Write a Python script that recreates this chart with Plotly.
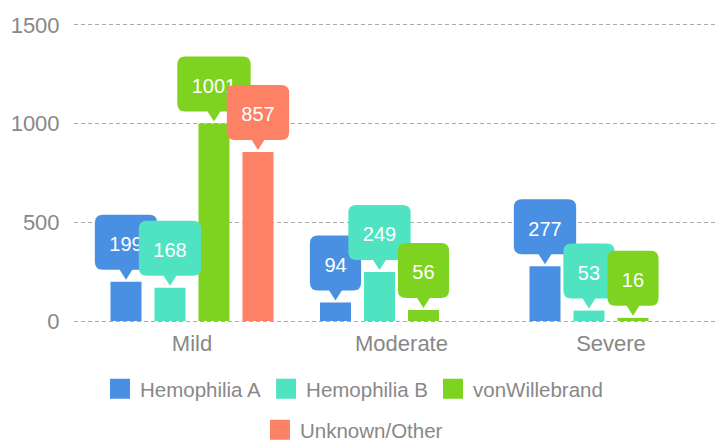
import plotly.graph_objects as go

categories = ["Mild", "Moderate", "Severe"]
series_names = ["Hemophilia A", "Hemophilia B", "vonWillebrand", "Unknown/Other"]
hemophilia_a = [199, 94, 277]
hemophilia_b = [168, 249, 53]
von_willebrand = [1001, 56, 16]
unknown_other = [857, None, None]
y_ticks = [0, 500, 1000, 1500]

series_values = [hemophilia_a, hemophilia_b, von_willebrand, unknown_other]
colors = ["#4a90e2", "#50e3c2", "#7ed321", "#fd8165"]

FONT = "Liberation Sans, Arial, sans-serif"
GRAY = "#888888"
BARGAP = 0.16
GROUPGAP = 0.295
n_series = len(series_values)
slot = (1 - BARGAP) / n_series

fig = go.Figure()
x_pos = list(range(len(categories)))

for name, vals, col in zip(series_names, series_values, colors):
    fig.add_trace(go.Bar(x=x_pos, y=vals, name=name, marker=dict(color=col, line=dict(width=0)),
                         showlegend=False, hoverinfo="x+y"))

# legend entries (square swatches)
for i, (name, col) in enumerate(zip(series_names, colors)):
    fig.add_trace(go.Scatter(x=[None], y=[None], mode="markers", name=name,
                             marker=dict(symbol="square", size=16, color=col,
                                         line=dict(color=col, width=4)),
                             legend="legend" if i < 3 else "legend2"))


def rounded_rect(h, b, t, r):
    return (f"M {-h + r},{b} L {h - r},{b} Q {h},{b} {h},{b + r} L {h},{t - r} "
            f"Q {h},{t} {h - r},{t} L {-h + r},{t} Q {-h},{t} {-h},{t - r} "
            f"L {-h},{b + r} Q {-h},{b} {-h + r},{b} Z")


GAP, TRI_H, TRI_W, BODY_H, RAD = 2, 10, 7, 55, 8
shapes = []
for i, (vals, col) in enumerate(zip(series_values, colors)):
    for ci, v in enumerate(vals):
        if v is None:
            continue
        xc = ci + (i - (n_series - 1) / 2) * slot
        txt = str(v)
        half = (11.1 * len(txt) + 29) / 2
        base = dict(type="path", xref="x", yref="y", xsizemode="pixel", ysizemode="pixel",
                    xanchor=xc, yanchor=v, fillcolor=col, line=dict(width=0), layer="above")
        tri = dict(base, path=f"M {-TRI_W},{GAP + TRI_H + 1} L {TRI_W},{GAP + TRI_H + 1} L 0,{GAP} Z")
        body = dict(base, path=rounded_rect(half, GAP + TRI_H, GAP + TRI_H + BODY_H, RAD),
                    label=dict(text=txt, font=dict(family=FONT, size=20, color="white"),
                               textposition="middle center"))
        shapes += [tri, body]

fig.update_layout(
    width=726, height=440,
    margin=dict(l=66, r=8, t=15, b=125, autoexpand=False),
    paper_bgcolor="white", plot_bgcolor="white",
    barmode="group", bargap=BARGAP, bargroupgap=GROUPGAP,
    shapes=shapes,
    font=dict(family=FONT, color=GRAY, size=22),
    xaxis=dict(range=[-0.5632, 2.549], tickvals=x_pos, ticktext=categories,
               showgrid=False, zeroline=False, showline=False,
               ticks="outside", ticklen=1, tickcolor="rgba(0,0,0,0)",
               tickfont=dict(size=22, color=GRAY)),
    yaxis=dict(range=[-10, 1510], tickvals=y_ticks, showgrid=True, gridcolor="#aaaaaa",
               griddash="4px,3px", gridwidth=1, zeroline=False, showline=False,
               ticks="outside", ticklen=9, tickcolor="rgba(0,0,0,0)",
               tickfont=dict(size=22, color=GRAY)),
    legend=dict(orientation="h", x=0.4294, xanchor="center", y=-0.22, yanchor="middle",
                font=dict(size=20.5, color=GRAY), bgcolor="rgba(0,0,0,0)"),
    legend2=dict(orientation="h", x=0.4294, xanchor="center", y=-0.3567, yanchor="middle",
                 font=dict(size=20.5, color=GRAY), bgcolor="rgba(0,0,0,0)"),
)

fig.write_html("out.html")
